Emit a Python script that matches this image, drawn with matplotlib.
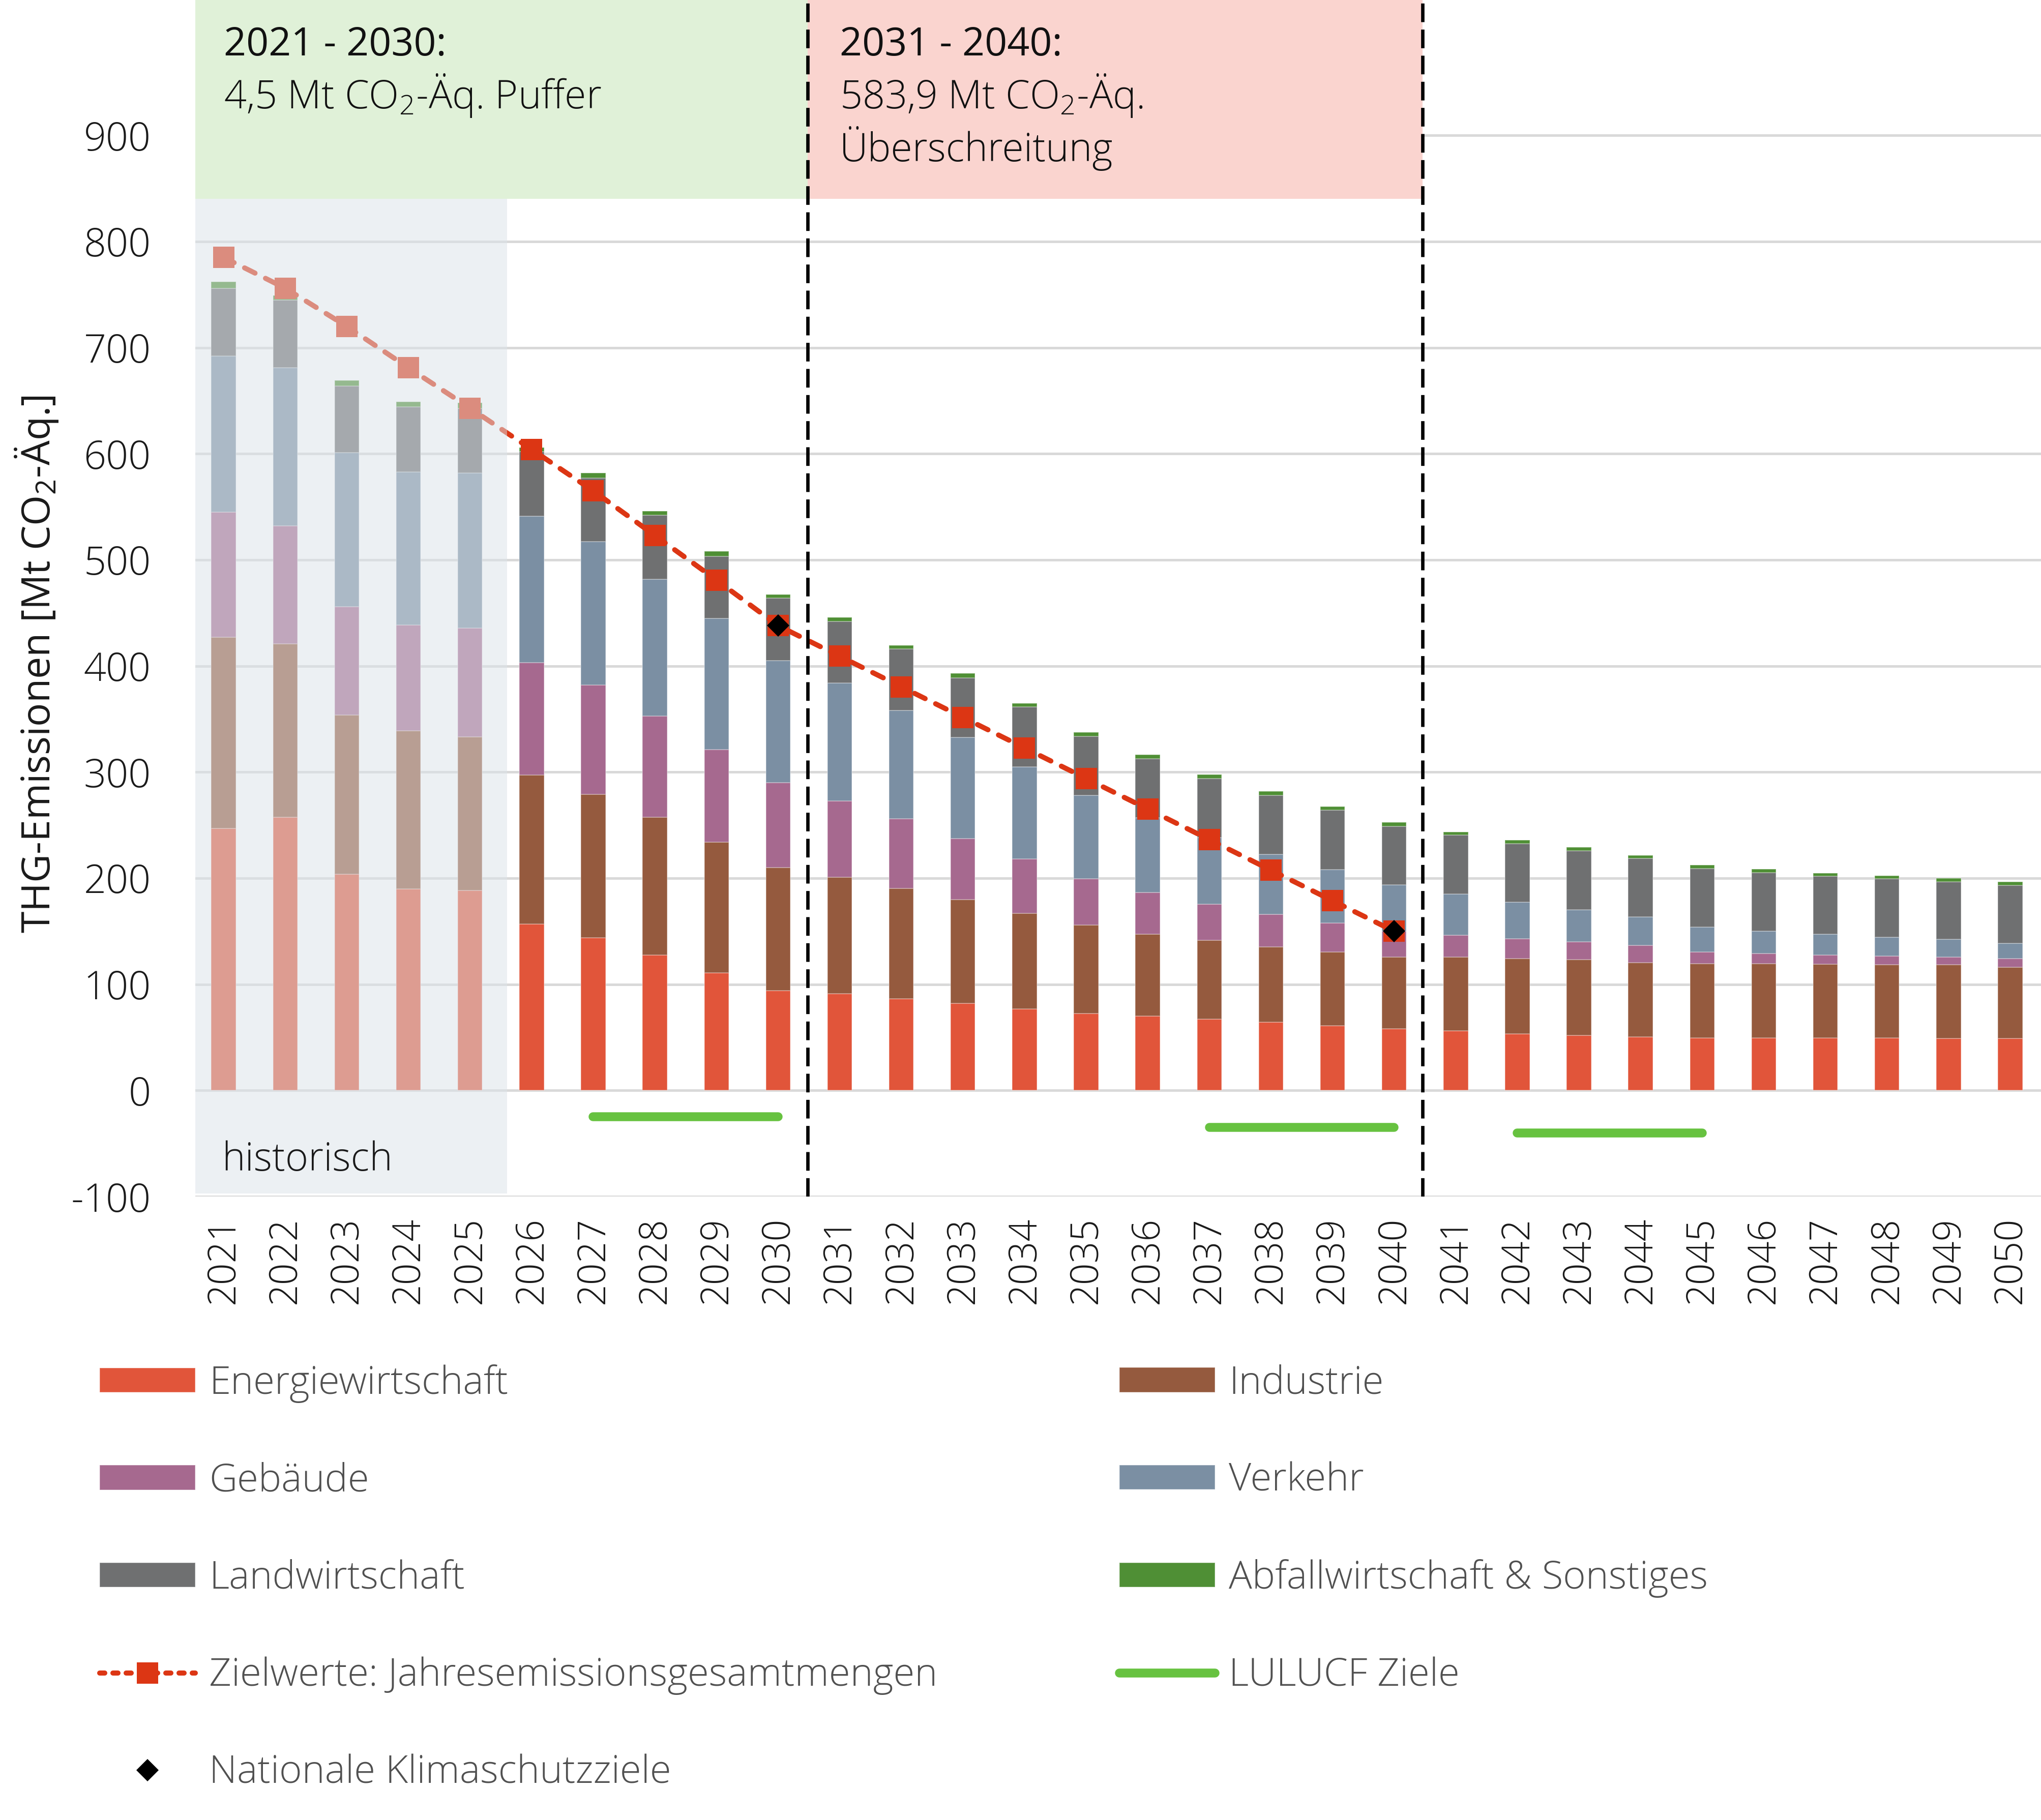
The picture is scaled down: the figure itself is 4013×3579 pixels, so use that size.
import numpy as np
import matplotlib
matplotlib.use("Agg")
import matplotlib.pyplot as plt
from matplotlib.patches import Rectangle
from matplotlib.lines import Line2D

plt.rcParams['font.family'] = ['Open Sans', 'DejaVu Sans']
plt.rcParams['font.weight'] = 'light'
plt.rcParams['mathtext.fontset'] = 'custom'
plt.rcParams['mathtext.rm'] = 'Open Sans:light'
plt.rcParams['axes.unicode_minus'] = False

########################
# DATEN (Mt CO2-Äq.)

jahre = np.arange(2021, 2051)

energie = [247, 257.5, 204, 190, 188.5, 157, 144, 127.6, 111, 94,
           91.3, 86.3, 82, 76.8, 72.6, 70.3, 67.2, 64.2, 61.1, 58,
           56.2, 53.4, 51.8, 50.7, 49.5, 49.5, 49.5, 49.5, 48.9, 48.9]
industrie = [180, 163.5, 150, 149, 144.5, 140.5, 135, 129.9, 123, 116,
             109.6, 104.3, 98, 90.2, 83.2, 77.1, 74.1, 71, 69.5, 67.7,
             69.3, 70.9, 71.4, 69.9, 69.8, 69.8, 69.3, 68.8, 69.4, 67.4]
gebaeude = [118, 111, 102, 99.5, 103, 105.5, 103, 95.5, 87, 80,
            72.1, 65.4, 57.6, 51, 43.6, 39, 34.4, 31, 27.4, 24.3,
            20.6, 18.8, 16.7, 15.9, 11, 9.8, 9, 8.5, 7.6, 8]
verkehr = [147, 149, 145, 144.5, 146, 138, 135, 129, 124, 115,
           110.9, 102, 95.1, 87, 78.6, 70.6, 62.7, 56.5, 50.2, 43.6,
           39, 34.4, 30.5, 27, 23.6, 21.1, 19.4, 17.7, 16.5, 14.5]
landwirtschaft = [64, 64, 63, 61, 61, 61, 60, 60, 58.5, 59,
                  58.1, 58, 56.3, 56.7, 55.8, 55.8, 55.6, 55.3, 55.8, 55.4,
                  55.5, 55.1, 55.3, 55.1, 55.1, 55.3, 54.6, 54.8, 54.2, 54.5]
abfall = [6, 4, 5, 5, 5, 4, 5, 4, 4.5, 3.5,
          3.8, 3.4, 4, 3.3, 3.9, 3.5, 3.9, 3.9, 3.7, 3.8,
          3.2, 3.4, 3.4, 3, 3.4, 3, 3.2, 3.2, 3.2, 3.3]

ziel_jahre = np.arange(2021, 2041)
zielwerte = [785, 756, 720, 681, 643, 604, 565, 523, 481, 438,
             409.2, 380.4, 351.6, 322.8, 294, 265.2, 236.4, 207.6, 178.8, 150]

ksz_jahre = [2030, 2040]
ksz_werte = [438, 150]

lulucf_von = [2027, 2037, 2042]
lulucf_bis = [2030, 2040, 2045]
lulucf_wert = [-25, -35, -40]

hist_bis = 2025.6
perioden_grenzen = [2030.48, 2040.46]

########################
# PLOT

W, H = 4013, 3579
fig = plt.figure(figsize=(W / 300, H / 300), dpi=300)
ax = fig.add_axes([384 / W, 1 - 2353 / H, 1 - 384 / W, 2353 / H])

x0, x1 = 2020.54, 2050.5
y0, y1 = -100, 1027.6
ax.set_xlim(x0, x1)
ax.set_ylim(y0, y1)

for s in ax.spines.values():
    s.set_visible(False)

ax.set_yticks(np.arange(-100, 1000, 100))
ax.set_axisbelow(True)
ax.yaxis.grid(True, color='#D9D9D9', linewidth=1.2)
ax.xaxis.grid(False)

# Perioden-Boxen oben
ax.add_patch(Rectangle((x0, 840), perioden_grenzen[0] - x0, y1 - 840,
                       facecolor='#E0F1D8', edgecolor='none', zorder=1))
ax.add_patch(Rectangle((perioden_grenzen[0], 840), perioden_grenzen[1] - perioden_grenzen[0],
                       y1 - 840, facecolor='#FAD4CF', edgecolor='none', zorder=1))

sektoren = [
    ("Energiewirtschaft", energie, '#E1553A'),
    ("Industrie", industrie, '#955A3E'),
    ("Gebäude", gebaeude, '#A6698F'),
    ("Verkehr", verkehr, '#7B8FA3'),
    ("Landwirtschaft", landwirtschaft, '#6F7071'),
    ("Abfallwirtschaft & Sonstiges", abfall, '#4F8F35'),
]

handles = {}
unten = np.zeros(len(jahre))
for name, werte, farbe in sektoren:
    werte = np.array(werte)
    h = ax.bar(jahre, werte, 0.4, bottom=unten, color=farbe,
               edgecolor=(1, 1, 1, 0.35), linewidth=0.4, zorder=2)
    handles[name] = h
    unten += werte

# LULUCF Ziele
for a, b, v in zip(lulucf_von, lulucf_bis, lulucf_wert):
    ax.plot([a, b], [v, v], color='#67C240', linewidth=4.2,
            solid_capstyle='round', zorder=3)

# Zielwerte Jahresemissionsgesamtmengen
rot = '#DC3614'
ax.plot(ziel_jahre, zielwerte, color=rot, linewidth=2.4,
        linestyle=(0, (2.3, 2.3)), dash_capstyle='round', zorder=3)
ax.plot(ziel_jahre, zielwerte, linestyle='none', marker='s', markersize=10,
        markerfacecolor=rot, markeredgewidth=0, zorder=4)
ax.plot(ksz_jahre, ksz_werte, linestyle='none', marker='D', markersize=7.5,
        color='black', markeredgewidth=0, zorder=4.5)

# historischer Bereich (halbtransparent darüber)
ax.add_patch(Rectangle((x0, -97), hist_bis - x0, 840 + 97,
                       facecolor='#DBE3E9', edgecolor='none', alpha=0.5, zorder=5))
ax.text(2020.97, -75.5, "historisch", fontsize=18.5, color='#1a1a1a',
        va='baseline', ha='left', zorder=6)

# Periodengrenzen
for g in perioden_grenzen:
    ax.plot([g, g], [y0, y1], color='black', linewidth=1.6,
            linestyle=(0, (5.5, 2.2)), zorder=6)

# Texte in den Boxen
txt = dict(fontsize=18.5, color='#111111', va='baseline', ha='left', zorder=7)
ax.text(2021.0, 975.3, "2021 - 2030:", fontweight='normal', **txt)
ax.text(2021.0, 925.5, "4,5 Mt CO$_\\mathregular{2}$-Äq. Puffer", **txt)
ax.text(2031.0, 975.3, "2031 - 2040:", fontweight='normal', **txt)
ax.text(2031.0, 925.5, "583,9 Mt CO$_\\mathregular{2}$-Äq.", **txt)
ax.text(2031.0, 875.7, "Überschreitung", **txt)

# Achsen
ax.set_xticks(jahre)
ax.set_xticklabels([str(j) for j in jahre], rotation=90)
ax.tick_params(axis='x', length=0, pad=9.6, labelsize=18, labelcolor='#1a1a1a')
ax.tick_params(axis='y', length=0, pad=21, labelsize=18.5, labelcolor='#1a1a1a')
ax.set_ylabel("THG-Emissionen [Mt CO$_\\mathregular{2}$-Äq.]", fontsize=18.5,
              color='#1a1a1a', va='center')
ax.yaxis.set_label_coords(-0.086, 0.445)

# Legende
ziel_handle = Line2D([], [], color=rot, linewidth=2.4, linestyle=(0, (1.0, 1.6)),
                     dash_capstyle='round', marker='s', markersize=10,
                     markerfacecolor=rot, markeredgewidth=0)
ksz_handle = Line2D([], [], linestyle='none', marker='D', markersize=7.5,
                    color='black', markeredgewidth=0)
lulucf_handle = Line2D([], [], color='#67C240', linewidth=4.2, solid_capstyle='round')

leg_opts = dict(frameon=False, fontsize=18.3, labelcolor='#505050', borderpad=0,
                borderaxespad=0, handlelength=2.47, handleheight=0.6,
                handletextpad=0.35, labelspacing=1.52, numpoints=1, loc='upper left')

leg1 = fig.legend([handles["Energiewirtschaft"], handles["Gebäude"], handles["Landwirtschaft"],
                   ziel_handle, ksz_handle],
                  ["Energiewirtschaft", "Gebäude", "Landwirtschaft",
                   "Zielwerte: Jahresemissionsgesamtmengen", "Nationale Klimaschutzziele"],
                  bbox_to_anchor=(196 / W, 1 - 2683 / H), **leg_opts)
leg2 = fig.legend([handles["Industrie"], handles["Verkehr"],
                   handles["Abfallwirtschaft & Sonstiges"], lulucf_handle],
                  ["Industrie", "Verkehr", "Abfallwirtschaft & Sonstiges", "LULUCF Ziele"],
                  bbox_to_anchor=(2201 / W, 1 - 2683 / H), **leg_opts)

fig.savefig("out.png", dpi=300)
